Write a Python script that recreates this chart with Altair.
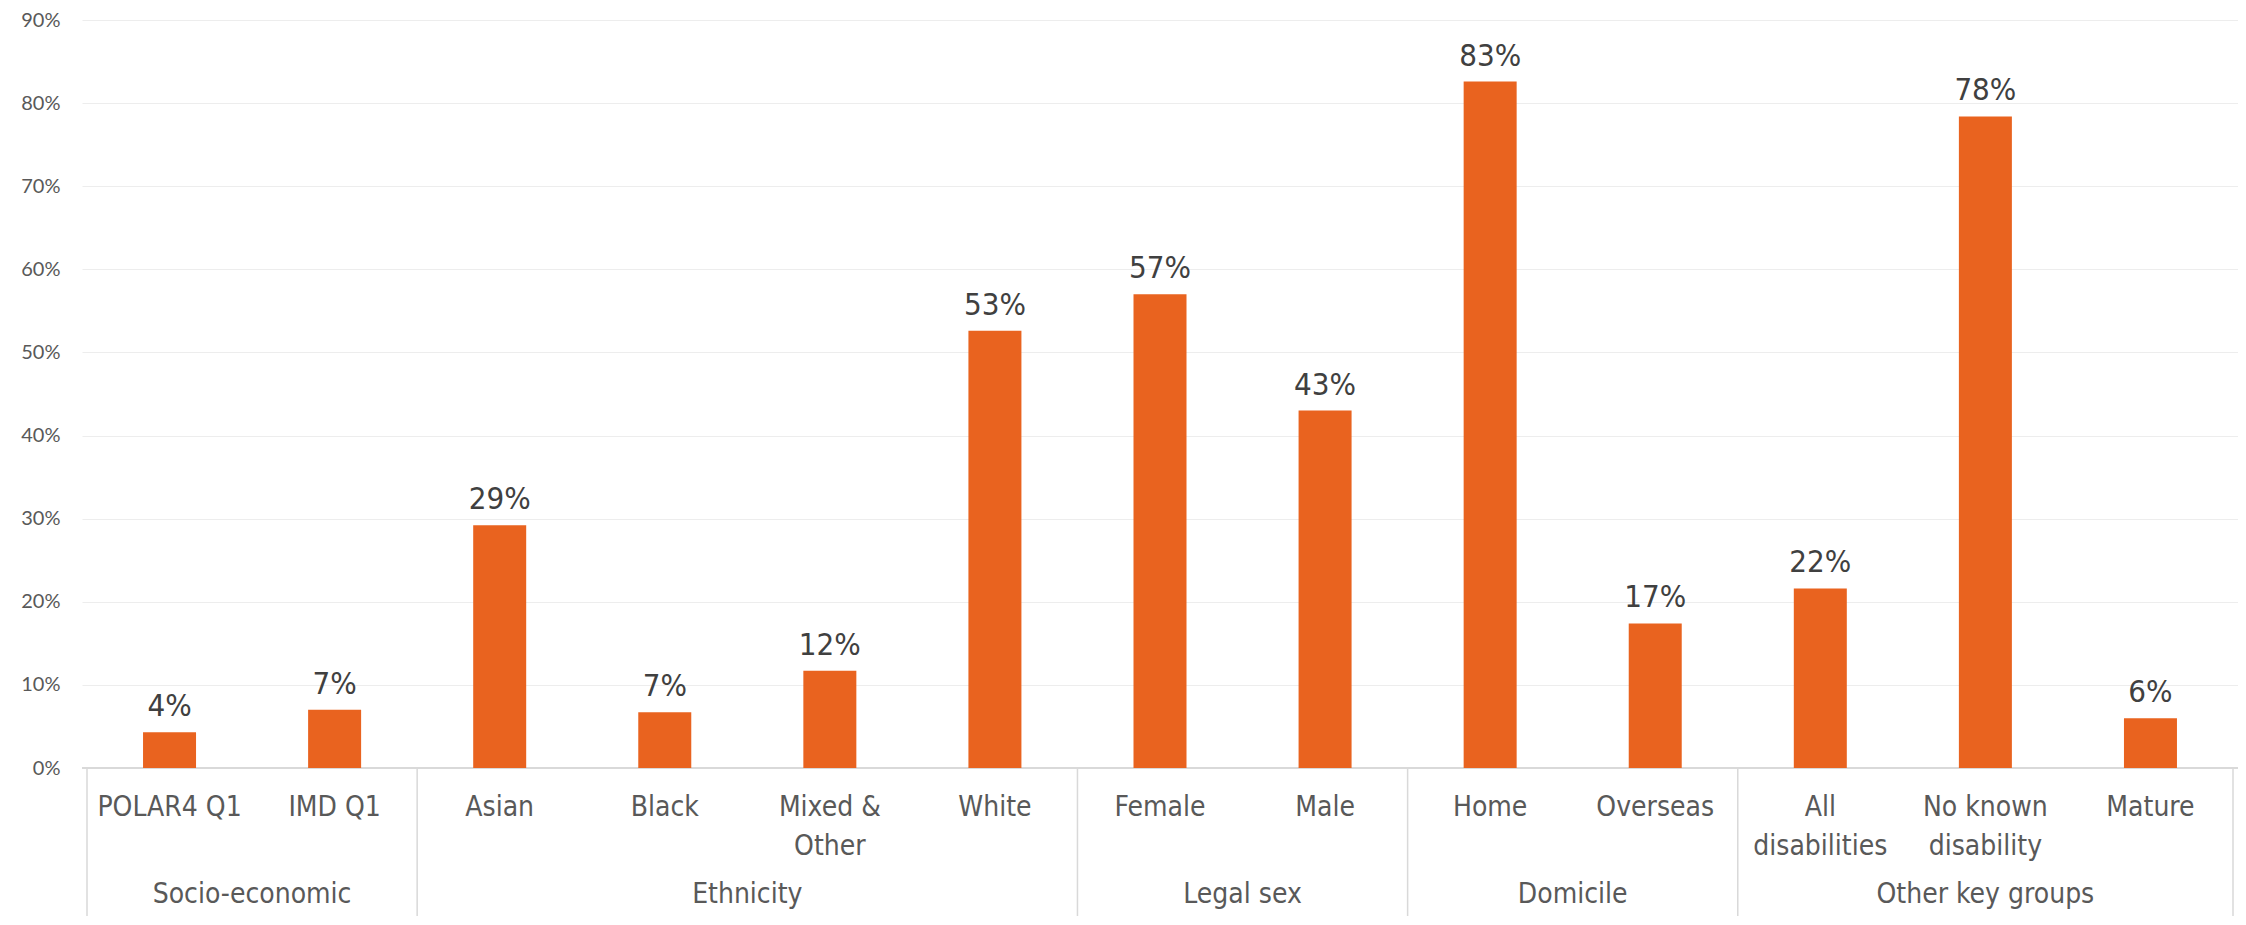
import altair as alt
import pandas as pd

categories = ["POLAR4 Q1", "IMD Q1", "Asian", "Black", "Mixed &\nOther", "White",
              "Female", "Male", "Home", "Overseas", "All\ndisabilities",
              "No known\ndisability", "Mature"]
values = [4.3, 7.0, 29.2, 6.7, 11.7, 52.6, 57.0, 43.0, 82.6, 17.4, 21.6, 78.4, 6.0]
groups = ["Socio-economic", "Ethnicity", "Legal sex", "Domicile", "Other key groups"]
group_sizes = [2, 4, 2, 2, 3]

# derived tables
bars = pd.DataFrame({
    "cat": categories,
    "pos": [i + 0.5 for i in range(len(categories))],
    "val": [v / 100 for v in values],
})
starts = [0]
for s in group_sizes:
    starts.append(starts[-1] + s)
grp = pd.DataFrame({
    "group": groups,
    "center": [(starts[i] + starts[i + 1]) / 2 for i in range(len(groups))],
})
bounds = pd.DataFrame({"b": starts})

W, H = 2156, 748
TOP = 12
FONT_CAT = "Liberation Sans Narrow, DejaVu Sans Condensed, Roboto Condensed, Lato, sans-serif"
ORANGE = "#E9631F"

xscale = alt.Scale(domain=[0, len(categories)], nice=False, zero=False)
x = alt.X("pos:Q", scale=xscale, axis=None)
y = alt.Y("val:Q", scale=alt.Scale(domain=[0, 0.9], nice=False),
          axis=alt.Axis(values=[i / 10 for i in range(10)], format=".0%", grid=True,
                        gridColor="#EDEDED", gridWidth=1, domain=False, ticks=False,
                        labelFont="Lato", labelFontSize=20, labelColor="#595959",
                        labelPadding=22, title=None))

bar_layer = alt.Chart(bars).mark_bar(size=53, color=ORANGE).encode(x=x, y=y)

val_text = alt.Chart(bars).mark_text(
    baseline="bottom", dy=-9, fontSize=31, font=FONT_CAT, color="#404040"
).encode(x=x, y="val:Q", text=alt.Text("val:Q", format=".0%"))

cat_text = alt.Chart(bars).mark_text(
    baseline="middle", fontSize=28, font=FONT_CAT, color="#595959",
    lineBreak="\n", lineHeight=39
).encode(x=x, y=alt.value(H + 40), text="cat:N")

grp_text = alt.Chart(grp).mark_text(
    baseline="middle", fontSize=28, font=FONT_CAT, color="#595959"
).encode(x=alt.X("center:Q", scale=xscale, axis=None),
         y=alt.value(H + 127), text="group:N")

sep = alt.Chart(bounds).mark_rule(color="#D9D9D9", strokeWidth=1.5).encode(
    x=alt.X("b:Q", scale=xscale, axis=None),
    y=alt.value(H), y2=alt.value(H + 160))

base_line = alt.Chart(bounds).mark_rule(color="#D9D9D9", strokeWidth=1.5).encode(
    x=alt.value(0), x2=alt.value(W), y=alt.value(H))

chart = alt.layer(sep, base_line, bar_layer, val_text, cat_text, grp_text).properties(
    width=W, height=H,
    background="white",
    autosize=alt.AutoSizeParams(type="none"),
    padding={"left": 74, "top": TOP, "right": 0, "bottom": 148},
).configure_view(stroke=None)

chart.save("out.html", embed_options={"renderer": "svg", "actions": False})
